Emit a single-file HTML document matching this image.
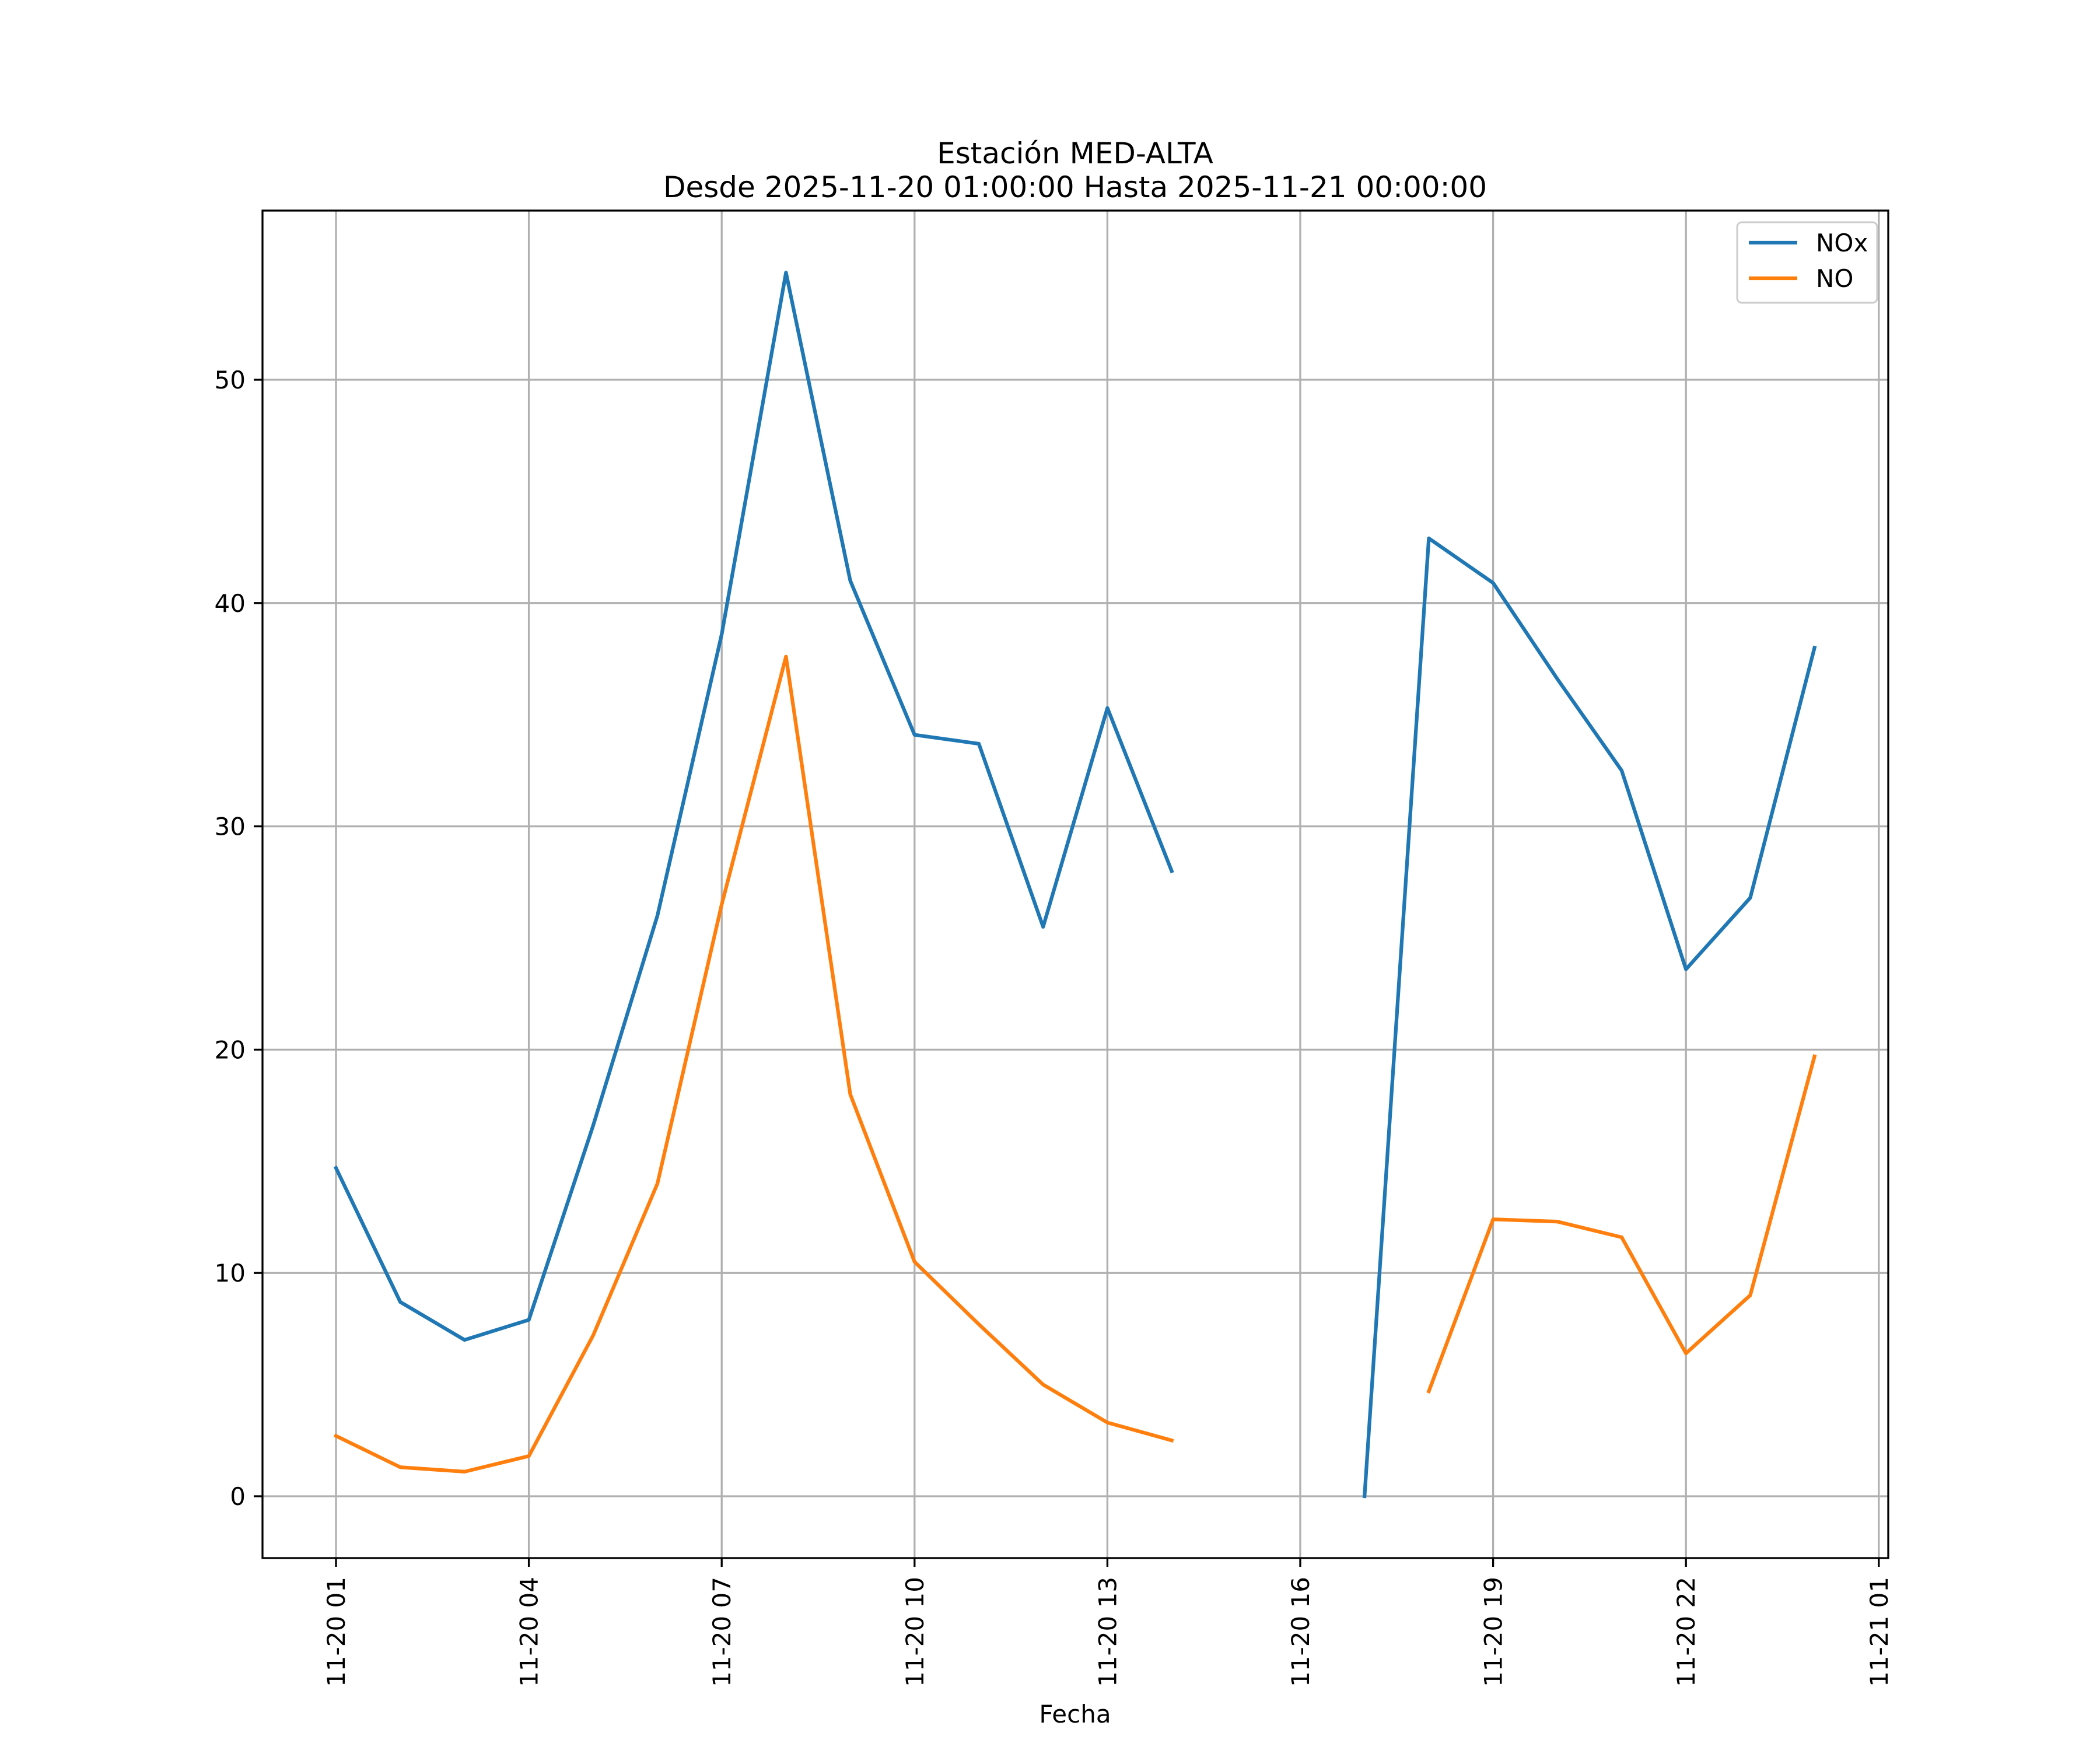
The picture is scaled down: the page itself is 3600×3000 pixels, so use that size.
<!DOCTYPE html>
<html><head><meta charset="utf-8"><style>
html,body{margin:0;padding:0;background:#fff}
svg{display:block;font-family:"DejaVu Sans","Liberation Sans",sans-serif}
</style></head><body>
<svg id="chart" width="3600" height="3000" viewBox="0 0 3600 3000" xmlns="http://www.w3.org/2000/svg">
<rect width="3600" height="3000" fill="#fff"/>
<g id="grid"></g>
<g id="series"></g>
<rect x="450" y="361" width="2787" height="2310" fill="none" stroke="#000" stroke-width="3.3"/>
<g id="ticks"></g>
<text x="1843" y="280" font-size="50" text-anchor="middle">Estación MED-ALTA</text>
<text x="1843" y="338" font-size="50" text-anchor="middle">Desde 2025-11-20 01:00:00 Hasta 2025-11-21 00:00:00</text>
<text x="1843" y="2953" font-size="42" text-anchor="middle">Fecha</text>
<g>
<rect x="2978" y="381" width="240" height="138" rx="8" fill="#fff" fill-opacity="0.8" stroke="#ccc" stroke-width="3"/>
<line x1="2998" y1="416" x2="3081" y2="416" stroke="#1f77b4" stroke-width="6.25"/>
<text x="3113" y="431" font-size="42">NOx</text>
<line x1="2998" y1="477" x2="3081" y2="477" stroke="#ff7f0e" stroke-width="6.25"/>
<text x="3113" y="492" font-size="42">NO</text>
</g>
</svg>
<script>
const hours = [1,2,3,4,5,6,7,8,9,10,11,12,13,14,15,16,17,18,19,20,21,22,23,24];
const noxValues = [14.7,8.7,7.0,7.9,16.6,26.0,38.6,54.8,41.0,34.1,33.7,25.5,35.3,28.0,null,null,0.0,42.9,40.9,36.6,32.5,23.6,26.8,38.0];
const noValues = [2.7,1.3,1.1,1.8,7.2,14.0,26.5,37.6,18.0,10.5,7.7,5.0,3.3,2.5,null,null,null,4.7,12.4,12.3,11.6,6.4,9.0,19.7];
const xTickHours = [1,4,7,10,13,16,19,22,25];
const xTickLabels = ["11-20 01","11-20 04","11-20 07","11-20 10","11-20 13","11-20 16","11-20 19","11-20 22","11-21 01"];
const yTicks = [0,10,20,30,40,50];

const NS="http://www.w3.org/2000/svg";
function X(h){return 576+(h-1)*110.2;}
function Y(v){return 2565-v*38.28;}
function mk(tag,attrs,parent){const e=document.createElementNS(NS,tag);for(const k in attrs)e.setAttribute(k,attrs[k]);parent.appendChild(e);return e;}
const grid=document.getElementById('grid'),ticks=document.getElementById('ticks'),series=document.getElementById('series');
xTickHours.forEach((h,i)=>{
  const x=X(h);
  const g=mk('line',{x1:x,x2:x,y1:361,y2:2671,stroke:'#b0b0b0','stroke-width':3.3},grid);
  
  
  const t=mk('line',{x1:x,x2:x,y1:2671,y2:2686,stroke:'#000','stroke-width':3.3},ticks);
  
  
  const l=mk('text',{x:0,y:0,'font-size':42,'text-anchor':'end',transform:`translate(${x+15},2703) rotate(-90)`},ticks);
  l.textContent=xTickLabels[i];
  
  
});
yTicks.forEach(v=>{
  const y=Y(v);
  const g=mk('line',{x1:450,x2:3237,y1:y,y2:y,stroke:'#b0b0b0','stroke-width':3.3},grid);
  
  
  const t=mk('line',{x1:435,x2:450,y1:y,y2:y,stroke:'#000','stroke-width':3.3},ticks);
  
  
  const l=mk('text',{x:421,y:y+15,'font-size':42,'text-anchor':'end'},ticks);
  l.textContent=v;
  
  
});
function draw(vals,color,name){
  let d='',pen=false;
  vals.forEach((v,i)=>{
    if(v===null){pen=false;return;}
    d+=(pen?'L':'M')+X(hours[i]).toFixed(1)+' '+Y(v).toFixed(1)+' ';pen=true;
  });
  const p=mk('path',{d:d,fill:'none',stroke:color,'stroke-width':6.25,'stroke-linejoin':'round','stroke-linecap':'square'},series);
  
  
}
draw(noxValues,'#1f77b4','nox-line');
draw(noValues,'#ff7f0e','no-line');
</script>
</body></html>
